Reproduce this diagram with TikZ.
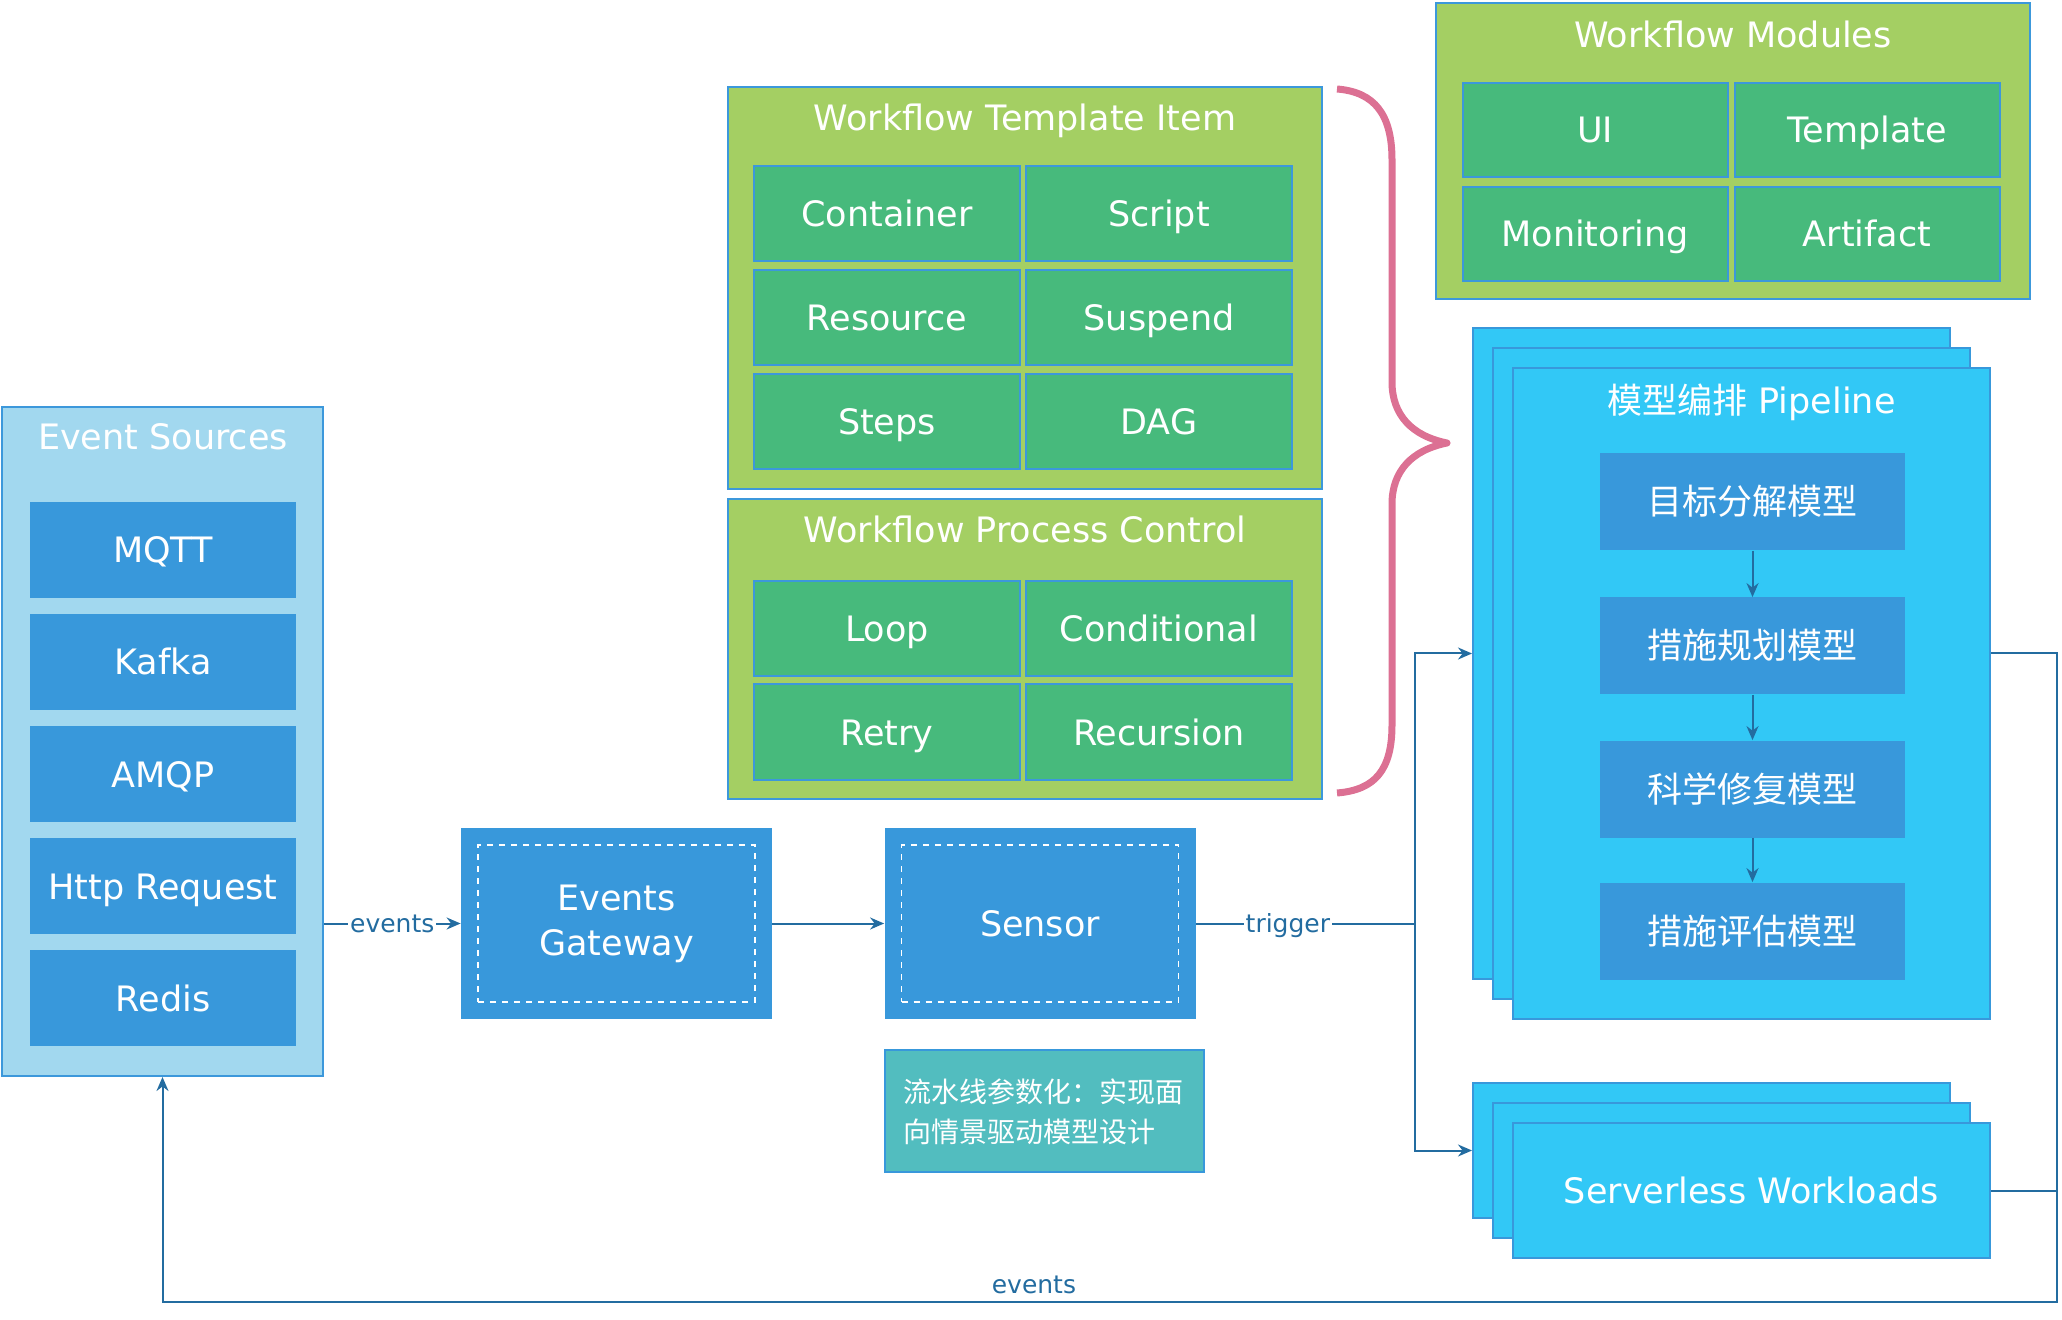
\documentclass[tikz,border=0pt]{standalone}
\usepackage{fontspec}
\setmainfont{DejaVu Sans}
\newfontfamily\cjk{Noto Sans CJK SC}
\usepackage{tikz}
\usetikzlibrary{arrows.meta}

\definecolor{srcbg}{HTML}{A2D8EF}
\definecolor{edgeblue}{HTML}{3C98DB}
\definecolor{boxblue}{HTML}{3898DB}
\definecolor{grpgreen}{HTML}{A4CF63}
\definecolor{itemgreen}{HTML}{47BA7C}
\definecolor{pipecyan}{HTML}{32C8F6}
\definecolor{notecyan}{HTML}{52BDBF}
\definecolor{bracepink}{HTML}{DC7093}
\definecolor{linkblue}{HTML}{236CA0}

\begin{document}
\begin{tikzpicture}[x=0.5pt, y=-0.5pt, >={Stealth[length=7pt, width=6pt]},
	every node/.style={text=white, inner sep=0pt, text height=13pt, text depth=0pt, font=\fontsize{17.5}{22.5}\selectfont},
	srcgroup/.style={draw=edgeblue, line width=1pt, fill=srcbg, minimum width=160.5pt, minimum height=334.5pt},
	srcbox/.style={fill=boxblue, minimum width=133pt, minimum height=48pt},
	group/.style={draw=edgeblue, line width=1pt, fill=grpgreen, minimum width=297pt},
	item/.style={draw=edgeblue, line width=1pt, fill=itemgreen, minimum width=133pt, minimum height=47.5pt},
	flowbox/.style={fill=boxblue, minimum width=155.5pt, minimum height=95.5pt, align=center, text height=, text depth=},
	dashbox/.style={draw=white, dashed, line width=0.75pt, minimum width=138.5pt, minimum height=78.5pt},
	pipe/.style={draw=boxblue, line width=1pt, fill=pipecyan, minimum width=238.5pt},
	stage/.style={fill=boxblue, minimum width=152.5pt, minimum height=48.5pt, font=\cjk\fontsize{17.5}{22.5}\selectfont},
	link/.style={draw=linkblue, line width=1pt},
	lbl/.style={text=linkblue, fill=white, inner sep=1pt, text height=9pt, text depth=0pt, font=\fontsize{12.5}{15}\selectfont}
]
\useasboundingbox (0, 0) rectangle (2062, 1320);

\node[srcgroup] (src) at (162.5, 741.5) {};
\node (srct) at (163, 437) {Event Sources};
\foreach \name/\y/\txt in {mqtt/550/MQTT, kafka/662/Kafka, amqp/774/AMQP, http/886/Http Request, redis/998/Redis}
	\node[srcbox] (\name) at (163, \y) {\txt};

\node[group, minimum height=201pt] (wti) at (1025, 288) {};
\node (wtit) at (1025, 118) {Workflow Template Item};
\node[item] (container) at (887, 214) {Container};
\node[item] (script) at (1159, 214) {Script};
\node[item] (resource) at (887, 318) {Resource};
\node[item] (suspend) at (1159, 318) {Suspend};
\node[item] (steps) at (887, 422) {Steps};
\node[item] (dag) at (1159, 422) {DAG};

\node[group, minimum height=149.5pt] (wpc) at (1025, 649) {};
\node (wpct) at (1025, 530) {Workflow Process Control};
\node[item] (loop) at (887, 629) {Loop};
\node[item] (cond) at (1159, 629) {Conditional};
\node[item] (retry) at (887, 732) {Retry};
\node[item] (recur) at (1159, 732) {Recursion};

\node[group, minimum height=148pt] (wm) at (1733, 151) {};
\node (wmt) at (1733, 35) {Workflow Modules};
\node[item, minimum width=132.5pt, minimum height=47pt] (ui) at (1595, 130) {UI};
\node[item, minimum width=132.5pt, minimum height=47pt] (tmpl) at (1867, 130) {Template};
\node[item, minimum width=132.5pt, minimum height=47pt] (mon) at (1595, 234) {Monitoring};
\node[item, minimum width=132.5pt, minimum height=47pt] (art) at (1867, 234) {Artifact};

\draw[draw=bracepink, line width=3.5pt, line join=round]
	(1337, 89) .. controls (1375, 92) and (1392, 115) ..
	(1392, 160) --
	(1392, 382) .. controls (1392, 415) and (1412, 436) ..
	(1447, 443) .. controls (1412, 450) and (1392, 471) ..
	(1392, 504) --
	(1392, 725) .. controls (1392, 770) and (1375, 790) ..
	(1337, 793);

\node[flowbox] (gw) at (616.5, 923.5) {Events\\Gateway};
\node[dashbox] (gwd) at (gw) {};
\node[flowbox] (sensor) at (1040, 923.5) {Sensor};
\node[dashbox] (sensord) at (sensor) {};
\node[draw=boxblue, line width=1pt, fill=notecyan, minimum width=159.5pt, minimum height=61pt] (note) at (1044.5, 1111) {};
\node[anchor=west, align=left, text height=, text depth=, font=\cjk\fontsize{14}{20}\selectfont] (notet) at (903, 1112) {流水线参数化：实现面\\向情景驱动模型设计};

\foreach \n/\d in {b/0, m/20, f/40}
	\node[pipe, minimum height=325.5pt] (pipe\n) at (1711.5+\d, 653.5+\d) {};
\node (pipet) at (1751.5, 401) {{\cjk 模型编排} Pipeline};
\node[stage] (st1) at (1752.5, 502) {目标分解模型};
\node[stage] (st2) at (1752.5, 646) {措施规划模型};
\node[stage] (st3) at (1752.5, 789) {科学修复模型};
\node[stage] (st4) at (1752.5, 931) {措施评估模型};

\foreach \n/\d in {b/0, m/20, f/40}
	\node[pipe, minimum height=67.5pt] (sl\n) at (1711.5+\d, 1150.5+\d) {};
\node (slt) at (slf) {Serverless Workloads};

\draw[link, ->] (st1) -- (st2);
\draw[link, ->] (st2) -- (st3);
\draw[link, ->] (st3) -- (st4);

\coordinate (tj) at (1415, 923.5);
\coordinate (loopr) at (2057, 1302);
\draw[link, ->] (src.east |- gw.west) -- node[lbl] {events} (gw.west);
\draw[link, ->] (gw) -- (sensor);
\draw[link] (sensor) -- node[lbl, pos=0.42] {trigger} (tj);
\draw[link, ->] (tj) |- (pipeb.west);
\draw[link, ->] (tj) |- (slb.west);
\draw[link] (pipef.east |- pipeb.west) -| (loopr);
\draw[link, ->] (slf.east) -| (loopr) -| node[lbl, fill=none, above=3pt, pos=0.27] {events} (src.south);
\end{tikzpicture}
\end{document}
